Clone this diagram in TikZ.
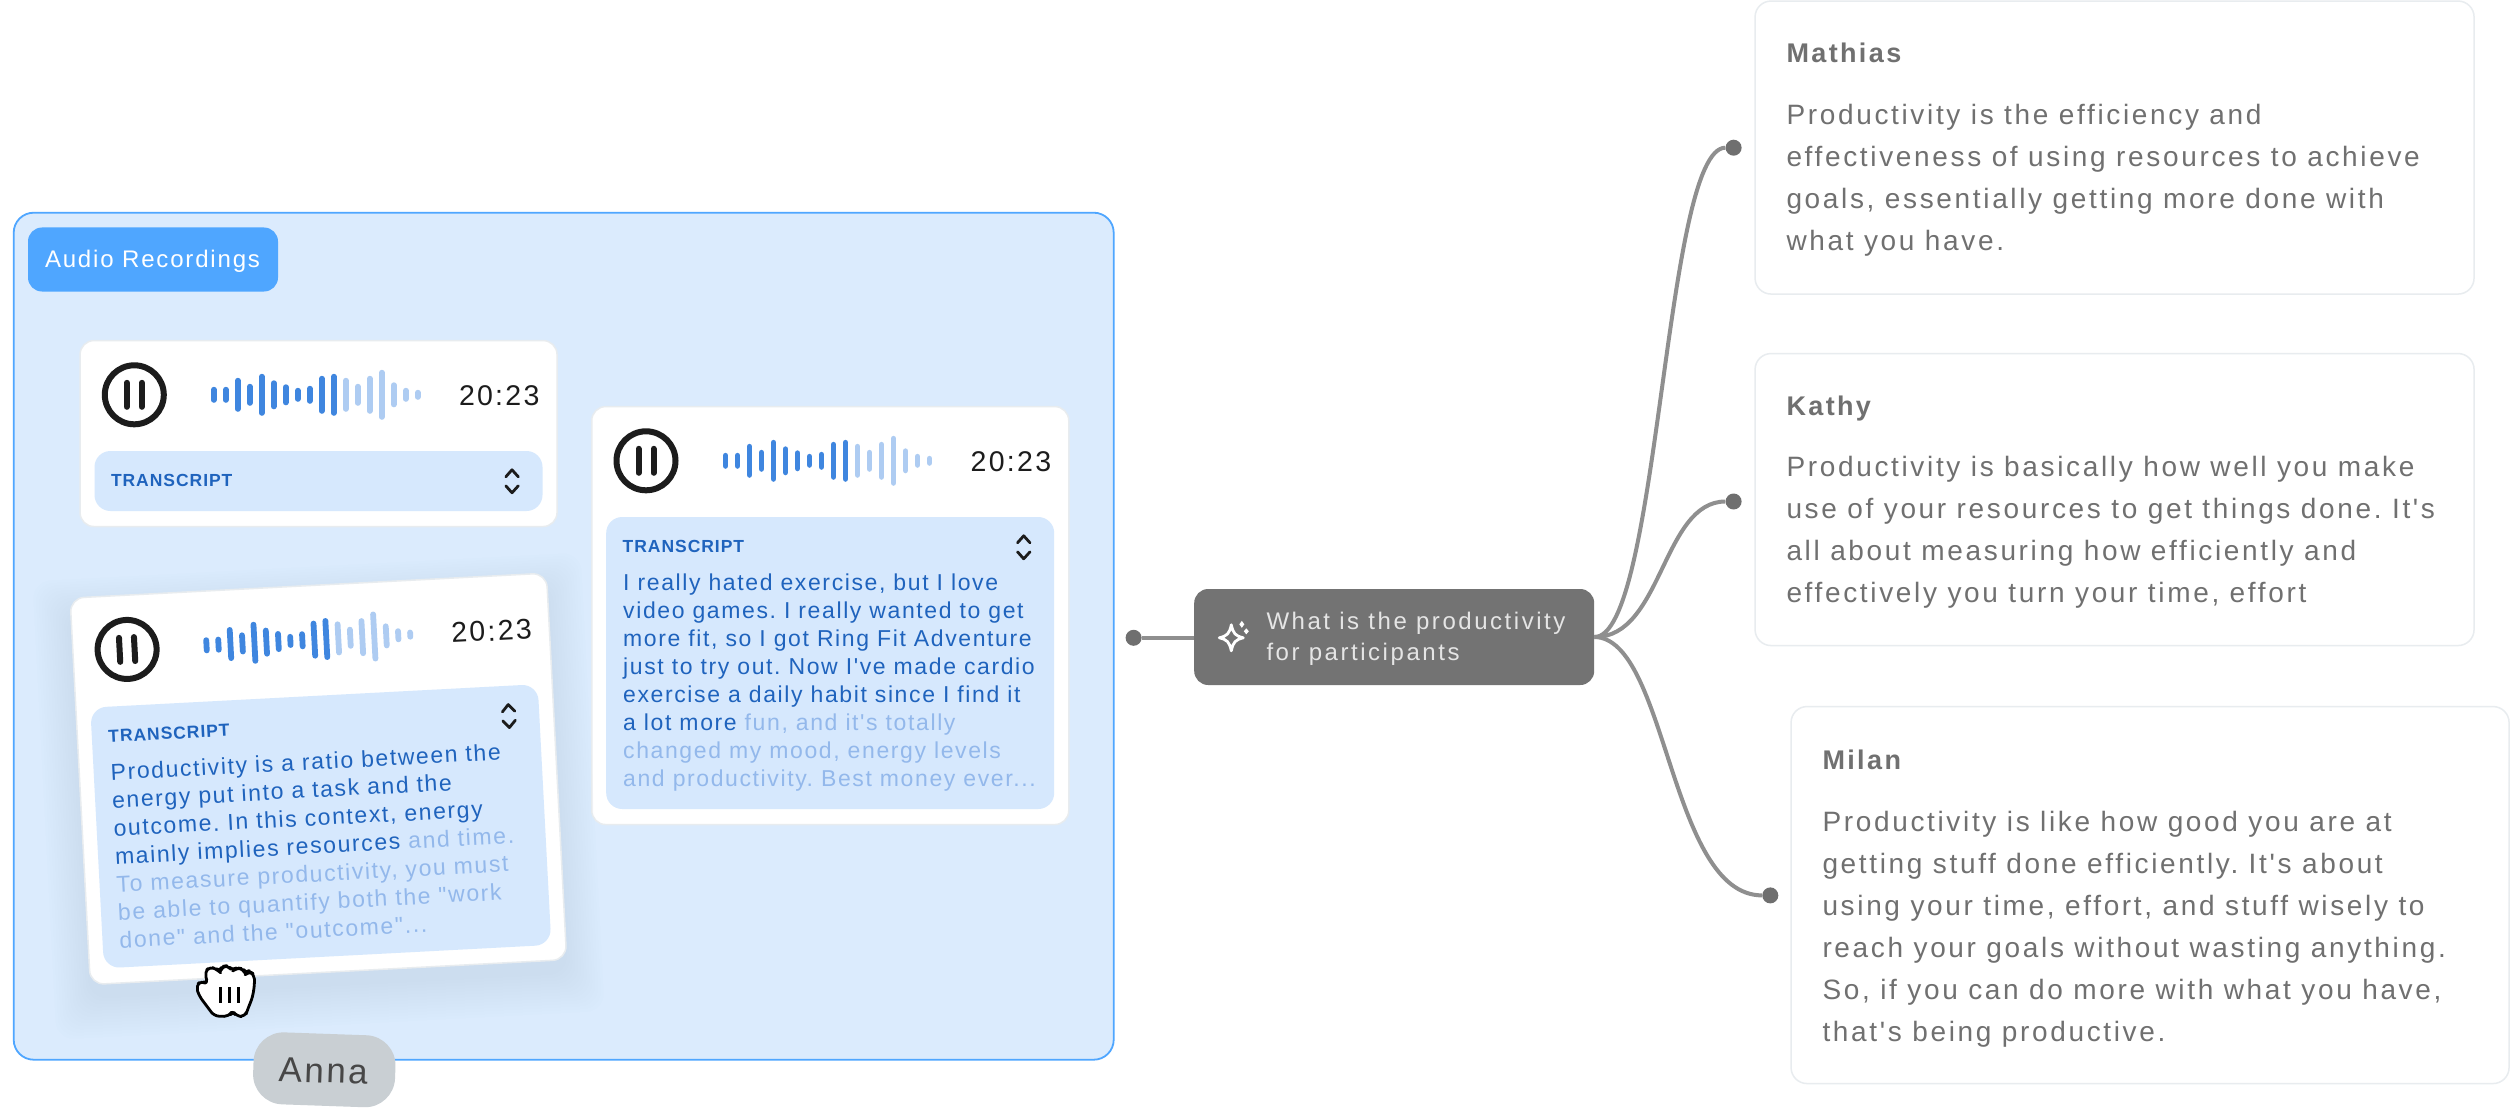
\documentclass[tikz,border=0pt]{standalone}
\usepackage{fontspec}
\setmainfont{Liberation Sans}
\newfontfamily\bodyF[LetterSpace=9.5]{Liberation Sans}
\newfontfamily\whoF[LetterSpace=8.8]{Liberation Sans Bold}
\newfontfamily\capF[LetterSpace=5.5]{Liberation Sans Bold}
\newfontfamily\transF[LetterSpace=7]{Liberation Sans}
\newfontfamily\tagF[LetterSpace=7.6]{Liberation Sans}
\newfontfamily\askF[LetterSpace=10.6]{Liberation Sans}
\newfontfamily\timeF[LetterSpace=8]{Liberation Sans}
\frenchspacing
\definecolor{boxfill}{HTML}{DBEBFD}
\definecolor{boxline}{HTML}{4FA6FF}
\definecolor{panelfill}{HTML}{D6E8FD}
\definecolor{inkblue}{HTML}{1F63BD}
\definecolor{fadeblue}{HTML}{93B8EB}
\definecolor{wavedark}{HTML}{3F86DF}
\definecolor{wavelight}{HTML}{AECCF2}
\definecolor{inkgrey}{HTML}{707070}
\definecolor{cardline}{HTML}{E8ECEF}
\definecolor{qfill}{HTML}{737373}
\definecolor{connline}{HTML}{8F8F8F}
\definecolor{dotfill}{HTML}{6F6F6F}
\definecolor{ink}{HTML}{1C1C1C}
\definecolor{annafill}{HTML}{C9CFD3}
\definecolor{shadowtint}{HTML}{5A6E80}
\tikzset{
  player/.style={draw=cardline,line width=1.5pt,fill=white,rounded corners=14pt,anchor=north west,inner sep=0pt,minimum width=477pt,transform shape},
  panel/.style={fill=panelfill,rounded corners=16pt,anchor=north west,inner sep=0pt,minimum width=448pt,transform shape},
  answer/.style={draw=cardline,line width=1.5pt,fill=white,rounded corners=16pt,anchor=north west,inner sep=0pt,minimum width=719pt},
  caplabel/.style={anchor=base west,inner sep=0pt,text=inkblue,font=\capF\fontsize{17.5}{20}\selectfont,transform shape},
  transcript/.style={anchor=north west,inner sep=0pt,align=left,text=inkblue,font=\transF\fontsize{23}{28}\selectfont,transform shape},
  clock/.style={anchor=base west,inner sep=0pt,text=ink,font=\timeF\fontsize{28.5}{30}\selectfont,transform shape},
  whohead/.style={anchor=base west,inner sep=0pt,text=inkgrey,font=\whoF\fontsize{27}{30}\selectfont},
  whobody/.style={anchor=north west,inner sep=0pt,align=left,text=inkgrey,font=\bodyF\fontsize{28}{42}\selectfont},
  conn/.style={draw=connline,line width=4pt},
  enddot/.style={circle,fill=dotfill,inner sep=0pt,minimum size=16pt},
  chev/.style={draw=ink,line width=2.8pt,line cap=round,line join=round},
  wavebar/.style={line width=5.8pt,line cap=round},
}
% #1 name prefix, #2 panel height, #3 card height
\newcommand\playerparts[3]{%
  \node[player,minimum height=#3pt] (#1card) at (0,0) {};
  \node[panel,minimum height=#2pt] (#1panel) at (15,111) {};
  \draw[draw=ink,line width=6pt] (55,55) circle (29.5pt);
  \draw[draw=ink,line width=6pt,line cap=round] (47.5,43) -- (47.5,67) (62.5,43) -- (62.5,67);
  \foreach \n/\h in {0/16,1/16,2/34,3/22,4/42,5/29,6/21,7/14,8/18,9/38,10/42}
    \draw[wavebar,draw=wavedark] (134.5+12*\n,55-\h/2+2.9) -- (134.5+12*\n,55+\h/2-2.9);
  \foreach \n/\h in {11/34,12/22,13/38,14/50,15/25,16/14,17/10}
    \draw[wavebar,draw=wavelight] (134.5+12*\n,55-\h/2+2.9) -- (134.5+12*\n,55+\h/2-2.9);
  \node[clock] (#1time) at (379.5,65.5) {20:23};
  \node[caplabel] (#1cap) at (31.5,147) {TRANSCRIPT};
  \draw[chev] (426.5,137) -- (432.7,130) -- (439,137);
  \draw[chev] (426.5,146) -- (432.7,153) -- (439,146);
}
\begin{document}
\begin{tikzpicture}[x=1pt,y=-1pt]
\useasboundingbox (0.7,1.2) rectangle (2510.7,1111.2);
\fill[white] (0.7,1.2) rectangle (2510.7,1111.2);

% container
\node[draw=boxline,line width=1.8pt,fill=boxfill,rounded corners=20pt,anchor=north west,inner sep=0pt,minimum width=1100pt,minimum height=847pt] (container) at (13.5,213) {};
\node[fill=boxline,rounded corners=14pt,anchor=north west,inner sep=0pt,minimum width=250pt,minimum height=64pt] (tag) at (28.5,228.5) {};
\node[anchor=base west,inner sep=0pt,text=white,font=\tagF\fontsize{24}{28}\selectfont] (taglabel) at (45.5,269) {Audio Recordings};

% short player
\begin{scope}[shift={(80,341)}]
  \playerparts{a}{60}{186}
\end{scope}

% tall player
\begin{scope}[shift={(591.7,407)}]
  \playerparts{b}{292}{418}
  \node[transcript] (btext) at (32,168) {I really hated exercise, but I love\\video games. I really wanted to get\\more fit, so I got Ring Fit Adventure\\just to try out. Now I've made cardio\\exercise a daily habit since I find it\\a lot more {\color{fadeblue}fun, and it's totally}\\{\color{fadeblue}changed my mood, energy levels}\\{\color{fadeblue}and productivity. Best money ever...}};
\end{scope}

% dragged player with shadow
\begin{scope}[shift={(70,598.6)},rotate=3]
  \foreach \s in {40,37,...,1}
    \fill[shadowtint,opacity=.009,rounded corners=18pt] (\s*.1-\s,-\s*.9+18) rectangle (477+\s-\s*.1,387+\s+14);
  \playerparts{c}{261}{387}
  \node[transcript] (ctext) at (32,168) {Productivity is a ratio between the\\energy put into a task and the\\outcome. In this context, energy\\mainly implies resources {\color{fadeblue}and time.}\\{\color{fadeblue}To measure productivity, you must}\\{\color{fadeblue}be able to quantify both the "work}\\{\color{fadeblue}done" and the "outcome"...}};
\end{scope}

% grab cursor
\begin{scope}[shift={(180,940)},x=.3333pt,y=-.3333pt]
  \draw[fill=white,draw=black,line width=2.8pt,line join=round,rounded corners=5pt]
    (105,232) -- (60,172) -- (50,142) -- (66,125) -- (86,137) -- (76,100) -- (92,83) -- (113,92) -- (122,100) -- (128,83) -- (146,80) -- (160,97) -- (172,87) -- (192,90) -- (199,106) -- (208,97) -- (225,106) -- (226,135) -- (220,175) -- (205,212) -- (198,233) -- (172,233) -- (160,215) -- (150,233) -- cycle;
  \draw[black,line width=3pt] (125,145) -- (125,192) (152,145) -- (152,192) (178,145) -- (178,192);
\end{scope}

% Anna tag
\node[fill=annafill,rounded corners=30pt,inner sep=0pt,minimum width=142pt,minimum height=72pt,rotate=-2] (anna) at (325,1071) {};
\node[anchor=center,inner sep=0pt,text=black!72,font=\transF\fontsize{35}{36}\selectfont,rotate=-2] (annalabel) at (324,1072) {Anna};

% central question
\node[fill=qfill,rounded corners=14pt,anchor=north west,inner sep=0pt,minimum width=400pt,minimum height=96pt] (q) at (1194.7,590) {};
\node[anchor=north west,inner sep=0pt,align=left,text=white!90!black,font=\askF\fontsize{24}{31.6}\selectfont] (qtext) at (1267,613) {What is the productivity\\for participants};
% sparkle icon
\draw[white,line width=2.8pt,line join=round] (1232,626) .. controls (1234,635) and (1236,637) .. (1244,639) .. controls (1236,641) and (1234,643) .. (1232,652) .. controls (1230,643) and (1228,641) .. (1220,639) .. controls (1228,637) and (1230,635) .. (1232,626) -- cycle;
\fill[white] (1242.5,622) -- (1245,625.5) -- (1242.5,629) -- (1240,625.5) -- cycle;
\fill[white] (1247,629.5) -- (1249.5,632.5) -- (1247,635.5) -- (1244.5,632.5) -- cycle;

% answers
\node[answer,minimum height=293pt] (mathias) at (1755,1.5) {};
\node[whohead] (mathiasname) at (1787,64) {Mathias};
\node[whobody] (mathiastext) at (1787,105.5) {Productivity is the efficiency and\\effectiveness of using resources to achieve\\goals, essentially getting more done with\\what you have.};

\node[answer,minimum height=292pt] (kathy) at (1755,354) {};
\node[whohead] (kathyname) at (1787,417) {Kathy};
\node[whobody] (kathytext) at (1787,457.5) {Productivity is basically how well you make\\use of your resources to get things done. It's\\all about measuring how efficiently and\\effectively you turn your time, effort};

\node[answer,minimum width=718pt,minimum height=377pt] (milan) at (1791,707) {};
\node[whohead] (milanname) at (1823,771) {Milan};
\node[whobody] (milantext) at (1823,812) {Productivity is like how good you are at\\getting stuff done efficiently. It's about\\using your time, effort, and stuff wisely to\\reach your goals without wasting anything.\\So, if you can do more with what you have,\\that's being productive.};

% connectors
\node[enddot] (d0) at (1134.3,639) {};
\node[enddot] (d1) at (1734.3,148.9) {};
\node[enddot] (d2) at (1734.3,502.7) {};
\node[enddot] (d3) at (1771,896.6) {};
\draw[conn] (d0) -- (d0-|q.west);
\draw[conn] (q.east) .. controls (1660,639) and (1665,148.9) .. (d1.west);
\draw[conn] (q.east) .. controls (1663,639) and (1663,502.7) .. (d2.west);
\draw[conn] (q.east) .. controls (1668,639) and (1670,896.6) .. (d3.west);
\end{tikzpicture}
\end{document}
